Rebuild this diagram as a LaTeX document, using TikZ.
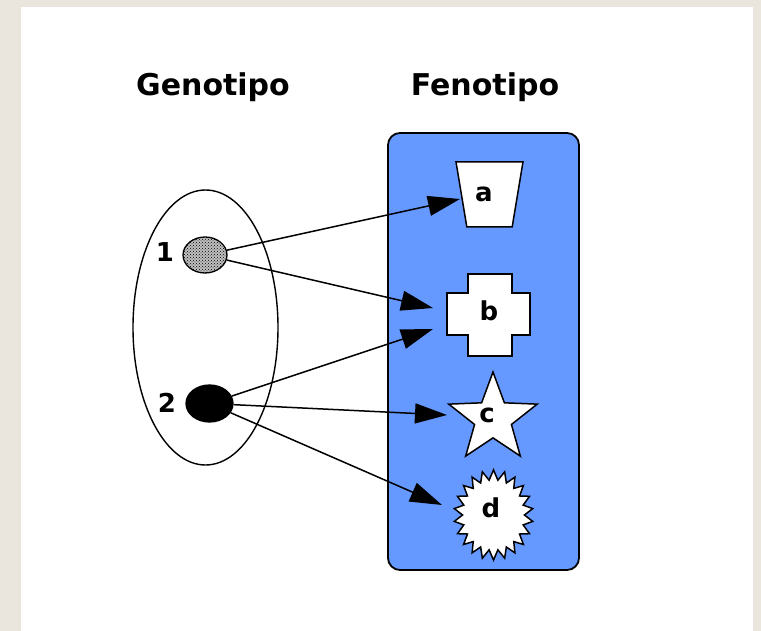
\documentclass[tikz,border=0pt]{standalone}
\usepackage{fontspec}
\setmainfont{DejaVu Sans}
\usetikzlibrary{shapes.geometric, patterns, arrows.meta}

\definecolor{pagebeige}{RGB}{234,230,222}
\definecolor{fenoblue}{RGB}{102,153,255}

\tikzset{
  title/.style={font=\bfseries\fontsize{30}{36}\selectfont, anchor=base, inner sep=0pt},
  tag/.style={font=\bfseries\fontsize{26}{30}\selectfont, inner sep=0pt},
  gene/.style={draw, ellipse, line width=1.3pt, inner sep=0pt},
  form/.style={draw, fill=white, line width=1.5pt, inner sep=0pt},
}

\begin{document}
\begin{tikzpicture}[x=1pt, y=-1pt, >={Triangle[length=32pt,width=20pt]}, line width=1.5pt]

        % page
        \fill [pagebeige] (0,0) rectangle (761,631);
        \fill [white] (21,7) rectangle (753,631);
        \useasboundingbox (0,0) rectangle (761,631);

        % sets
        \node [draw, ellipse, line width=1.4pt, minimum width=145pt, minimum height=275pt] (geno) at (205.5,327.5) {};
        \node [draw, line width=1.8pt, rounded corners=12pt, fill=fenoblue,
               minimum width=191pt, minimum height=437pt] (feno) at (483.5,351.5) {};

        \node [title] (genotitle) at (213,96) {Genotipo};
        \node [title] (fenotitle) at (485,96) {Fenotipo};

        % genes
        \node [gene, fill=black!25, postaction={pattern=crosshatch dots, pattern color=black},
               minimum width=44pt, minimum height=36pt] (g1) at (205,255) {};
        \node [gene, fill=black, minimum width=47pt, minimum height=37pt] (g2) at (209.5,403.5) {};
        \node [tag] (n1) at (165,252) {1};
        \node [tag] (n2) at (167,403) {2};

        % phenotypes
        \node [form, inner sep=4pt, trapezium, trapezium stretches=true, trapezium angle=76.6,
               shape border rotate=180, minimum width=67pt, minimum height=65pt] (fa) at (489.5,194.5) {};
        \draw [form] (468,274) -| (512,293) -| (530,335) -| (512,356)
                     -| (468,335) -| (447,293) -| cycle;
        \node [form, star, star points=5, star point ratio=2.4, minimum size=93pt] (fc) at (493,418.5) {};
        \begin{scope}[shift={(493.5,515)}, xscale=0.88]
        \node [form, inner sep=2pt, star, star points=22, star point ratio=1.28, minimum size=90pt, transform shape] (fd) at (0,0) {};
        \end{scope}

        \foreach \l/\p in {a/{(484,194)}, b/{(489,311)}, c/{(487,415)}, d/{(491,508)}}
        \node [tag] (\l) at \p {\l};

        % connectors
        \coordinate (a-in) at (460,199);
        \coordinate (b-in1) at (433,308);
        \coordinate (b-in2) at (433,329);
        \coordinate (c-in) at (447,415);
        \coordinate (d-in) at (442,505);

        \foreach \s/\t in {g1/a-in, g1/b-in1, g2/b-in2, g2/c-in, g2/d-in}
        \draw [->] (\s) -- (\t);

    \end{tikzpicture}
\end{document}
